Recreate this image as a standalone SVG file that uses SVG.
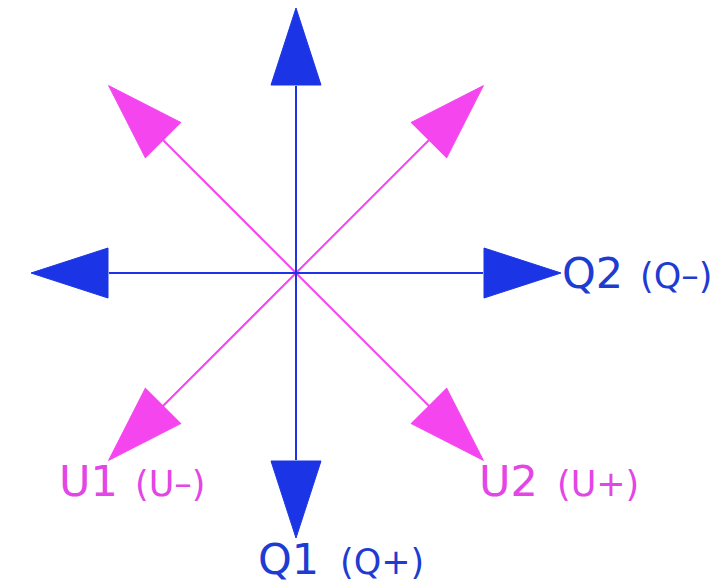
<svg xmlns="http://www.w3.org/2000/svg" xmlns:xlink="http://www.w3.org/1999/xlink" width="724" height="584" viewBox="0 0 724 584">
  <style>
    .bl { stroke: #1b35e6; stroke-width: 2; fill: none; }
    .mg { stroke: #f545ef; stroke-width: 2; fill: none; }
    .bh { fill: #1b35e6; stroke: #1b35e6; stroke-width: 1; stroke-linejoin: round; }
    .mh { fill: #f545ef; stroke: #f545ef; stroke-width: 1; stroke-linejoin: round; }
    .lab { font-family: "DejaVu Sans", "Liberation Sans", sans-serif; }
    .big { font-size: 43px; }
    .small { font-size: 35px; }
    .tb { fill: #1f3cd2; }
    .tm { fill: #e445e6; }
  </style>
  <defs>
    <polygon id="head" points="0,-265 25,-188 -25,-188"/>
  </defs>
  <rect x="0" y="0" width="724" height="584" fill="#ffffff"/>
  <g id="connectors">
    <line class="mg" x1="163" y1="140" x2="429" y2="406"/>
    <line class="mg" x1="429" y1="140" x2="163" y2="406"/>
    <line class="bl" x1="296" y1="86" x2="296" y2="460"/>
    <line class="bl" x1="109" y1="273" x2="483" y2="273"/>
  </g>
  <g id="arrow-ul" transform="translate(296,273) rotate(-45)"><use href="#head" xlink:href="#head" class="mh"/></g>
  <g id="arrow-ur" transform="translate(296,273) rotate(45)"><use href="#head" xlink:href="#head" class="mh"/></g>
  <g id="arrow-ll" transform="translate(296,273) rotate(-135)"><use href="#head" xlink:href="#head" class="mh"/></g>
  <g id="arrow-lr" transform="translate(296,273) rotate(135)"><use href="#head" xlink:href="#head" class="mh"/></g>
  <g id="arrow-up" transform="translate(296,273)"><use href="#head" xlink:href="#head" class="bh"/></g>
  <g id="arrow-right" transform="translate(296,273) rotate(90)"><use href="#head" xlink:href="#head" class="bh"/></g>
  <g id="arrow-down" transform="translate(296,273) rotate(180)"><use href="#head" xlink:href="#head" class="bh"/></g>
  <g id="arrow-left" transform="translate(296,273) rotate(-90)"><use href="#head" xlink:href="#head" class="bh"/></g>
  <g id="label-q2">
    <text class="lab big tb" x="562" y="288">Q2</text>
    <text class="lab small tb" x="640" y="288">(Q–)</text>
  </g>
  <g id="label-q1">
    <text class="lab big tb" x="258" y="574">Q1</text>
    <text class="lab small tb" x="340" y="574">(Q+)</text>
  </g>
  <g id="label-u1">
    <text class="lab big tm" x="59" y="496">U1</text>
    <text class="lab small tm" x="135" y="496">(U–)</text>
  </g>
  <g id="label-u2">
    <text class="lab big tm" x="479" y="496">U2</text>
    <text class="lab small tm" x="557" y="496">(U+)</text>
  </g>
</svg>
